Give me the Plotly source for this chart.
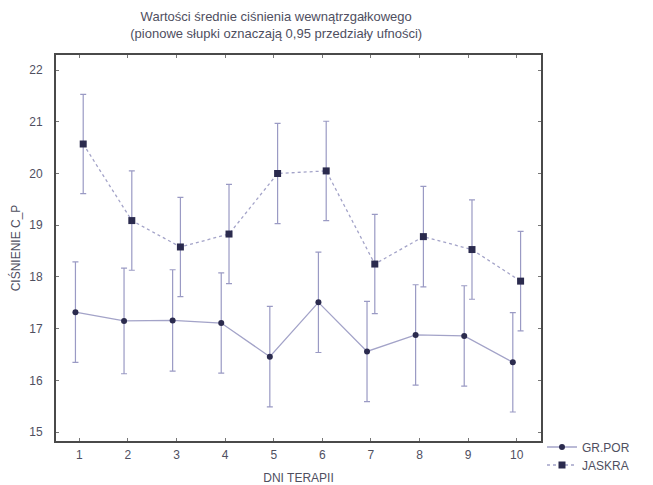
import plotly.graph_objects as go

days = [1, 2, 3, 4, 5, 6, 7, 8, 9, 10]
gr_por = [17.32, 17.15, 17.16, 17.11, 16.46, 17.51, 16.56, 16.88, 16.86, 16.35]
gr_por_err = [0.97, 1.02, 0.98, 0.97, 0.97, 0.97, 0.97, 0.97, 0.97, 0.96]
jaskra = [20.57, 19.09, 18.58, 18.83, 20.0, 20.05, 18.25, 18.78, 18.53, 17.92]
jaskra_err = [0.96, 0.96, 0.96, 0.96, 0.97, 0.96, 0.96, 0.97, 0.96, 0.96]
yticks = [15, 16, 17, 18, 19, 20, 21, 22]

title_lines = ["Wartości średnie ciśnienia wewnątrzgałkowego",
               "(pionowe słupki oznaczają 0,95 przedziały ufności)"]

line_col = "#a3a3c8"
mark_col = "#2b2b4e"
err_col = "#9a9ac4"
text_col = "#4f4f5f"
shift = 0.08

fig = go.Figure()
fig.add_trace(go.Scatter(
    x=[d - shift for d in days], y=gr_por, name="GR.POR",
    mode="lines+markers", legend="legend",
    line=dict(color=line_col, width=1.3),
    marker=dict(symbol="circle", size=6, color=mark_col),
    error_y=dict(type="data", array=gr_por_err, color=err_col, thickness=1.2, width=3),
))
fig.add_trace(go.Scatter(
    x=[d + shift for d in days], y=jaskra, name="JASKRA",
    mode="lines+markers", legend="legend2",
    line=dict(color=line_col, width=1.3, dash="dot"),
    marker=dict(symbol="square", size=7, color=mark_col),
    error_y=dict(type="data", array=jaskra_err, color=err_col, thickness=1.2, width=3),
))

legend_common = dict(xref="container", yref="container", x=0.830, xanchor="left",
                     yanchor="middle", bgcolor="rgba(0,0,0,0)",
                     font=dict(size=12, color=text_col), itemwidth=30)

fig.update_layout(
    width=653, height=485,
    margin=dict(l=56, r=112, t=55, b=44),
    paper_bgcolor="white", plot_bgcolor="white",
    font=dict(family="Liberation Sans, Arial, sans-serif", size=12, color=text_col),
    title=dict(text="<br>".join(title_lines), x=0.423, xanchor="center",
               yref="container", y=0.957, yanchor="top",
               font=dict(size=13, color=text_col)),
    showlegend=True,
    legend=dict(legend_common, y=1 - 447 / 485),
    legend2=dict(legend_common, y=1 - 465 / 485),
    xaxis=dict(range=[0.52, 10.5], tickvals=days, ticktext=[str(d) for d in days],
               showgrid=False, zeroline=False, showline=True, linecolor="#4a4a4a",
               linewidth=2, mirror="ticks", ticks="inside", ticklen=3, tickcolor="#777777",
               automargin=False, ticklabelstandoff=2,
               title=dict(text="DNI TERAPII", font=dict(size=12, color=text_col), standoff=12)),
    yaxis=dict(range=[14.83, 22.29], tickvals=yticks, ticktext=[str(v) for v in yticks],
               showgrid=False, zeroline=False, showline=True, linecolor="#4a4a4a",
               linewidth=2, mirror="ticks", ticks="inside", ticklen=3, tickcolor="#777777",
               automargin=False, ticklabelstandoff=9,
               title=dict(text="CIŚNIENIE C_P", font=dict(size=12, color=text_col), standoff=6)),
)

fig.write_html("out.html", config={"displayModeBar": False},
               post_script="document.body.style.margin='0';")
